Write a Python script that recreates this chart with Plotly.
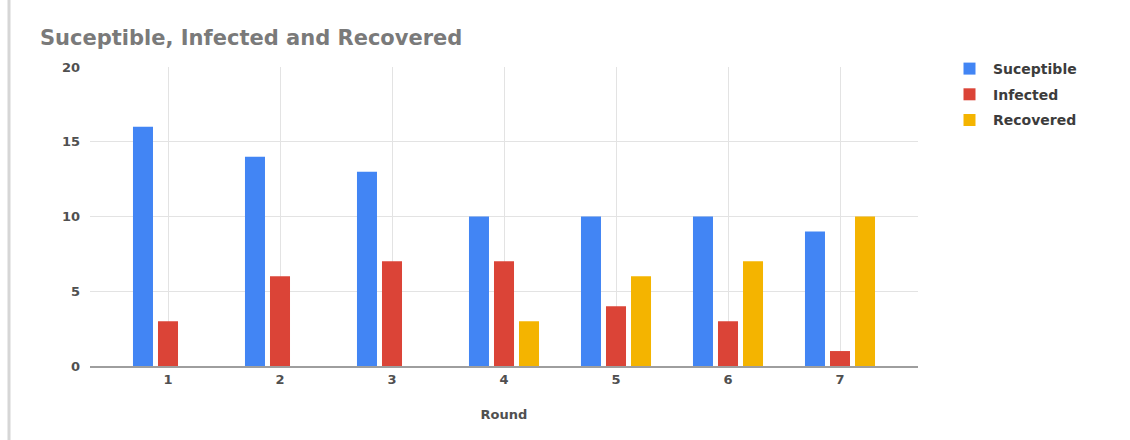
import plotly.graph_objects as go

rounds = [1, 2, 3, 4, 5, 6, 7]
round_labels = ["1", "2", "3", "4", "5", "6", "7"]
susceptible = [16, 14, 13, 10, 10, 10, 9]
infected = [3, 6, 7, 7, 4, 3, 1]
recovered = [0, 0, 0, 3, 6, 7, 10]

series = [
    ("Suceptible", susceptible, "#4285F4"),
    ("Infected", infected, "#DB4437"),
    ("Recovered", recovered, "#F4B400"),
]

W, H = 1130, 440
L, R, T, B = 90, 212, 67, 74
plot_w = W - L - R
plot_h = H - T - B

fig = go.Figure()
for name, vals, color in series:
    fig.add_trace(go.Bar(x=rounds, y=vals, name="<b>%s</b>" % name,
                         marker_color=color, marker_line_width=0,
                         legendgroup=name))

font_family = "DejaVu Sans, Arial, sans-serif"

# a little padding either side of the first and last category
pad = 22 / 112
fig.update_layout(
    width=W, height=H,
    margin=dict(l=L, r=R, t=T, b=B, pad=0),
    paper_bgcolor="white", plot_bgcolor="white",
    barmode="group", bargap=0.33, bargroupgap=0.2,
    font=dict(family=font_family, color="#444444", size=13),
    title=dict(text="<b>Suceptible, Infected and Recovered</b>",
               x=40 / W, xanchor="left", y=1 - 38 / H, yanchor="middle",
               font=dict(size=21, color="#7a7a7a", family=font_family)),
    legend=dict(x=(946 - L) / plot_w, xanchor="left",
                y=1 + 14 / plot_h, yanchor="top",
                font=dict(size=14, color="#3c3c3c"),
                itemwidth=37, tracegroupgap=4.5, bgcolor="rgba(0,0,0,0)"),
    showlegend=True,
)

fig.update_yaxes(range=[0, 20], tickvals=[0, 5, 10, 15, 20],
                 ticktext=["<b>0</b>", "<b>5</b>", "<b>10</b>", "<b>15</b>", "<b>20</b>"],
                 showgrid=True, gridcolor="#E3E3E3", gridwidth=1,
                 zeroline=False, showline=False, ticks="",
                 ticklabelstandoff=9,
                 tickfont=dict(size=13, color="#505050"))
fig.update_xaxes(range=[rounds[0] - 0.5 - pad, rounds[-1] + 0.5 + pad],
                 tickvals=rounds,
                 ticktext=["<b>%s</b>" % t for t in round_labels],
                 showgrid=True, gridcolor="#E3E3E3", gridwidth=1,
                 zeroline=False,
                 showline=True, linecolor="#9E9E9E", linewidth=2,
                 ticks="", tickfont=dict(size=13, color="#505050"),
                 title=dict(text="<b>Round</b>", standoff=24,
                            font=dict(size=13, color="#505050")))

# thin frame line down the left edge of the card
fx = -(L - 9) / plot_w
fig.add_shape(type="line", xref="paper", yref="paper",
              x0=fx, x1=fx, y0=-B / plot_h, y1=1 + T / plot_h,
              line=dict(color="#D6D6D6", width=3))

fig.write_html("out.html")
